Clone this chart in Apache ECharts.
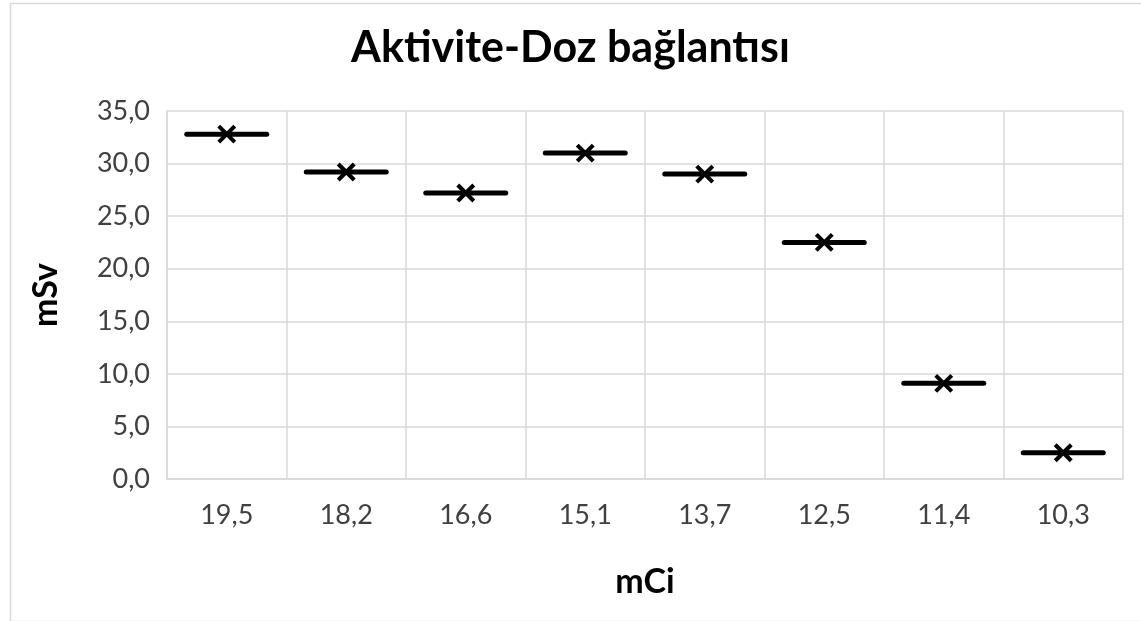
<!DOCTYPE html>
<html><head><meta charset="utf-8">
<script src="https://cdn.jsdelivr.net/npm/echarts@6/dist/echarts.min.js"></script>
<style>html,body{margin:0;padding:0;background:#fff}#c{width:1141px;height:621px}</style>
</head><body><div id="c"></div>
<script>
const categories = ['19,5','18,2','16,6','15,1','13,7','12,5','11,4','10,3'];
const doseValues = [32.8, 29.2, 27.2, 31.0, 29.0, 22.5, 9.1, 2.5];
const yTicks = {min: 0, max: 35, interval: 5};

const chart = echarts.init(document.getElementById('c'));
const FONT = 'Lato';
chart.setOption({
  backgroundColor: '#fff',
  animation: false,
  title: {
    text: 'Aktivite-Doz bağlantısı', left: 'center', top: 22,
    textStyle: {fontFamily: FONT, fontSize: 43, fontWeight: 'bold', color: '#000'}
  },
  grid: {left: 167, right: 18, top: 111, bottom: 142},
  xAxis: {
    type: 'category', data: categories,
    name: 'mCi', nameLocation: 'middle', nameGap: 86,
    nameTextStyle: {fontFamily: FONT, fontSize: 34, fontWeight: 'bold', color: '#000'},
    axisLine: {lineStyle: {color: '#d9d9d9', width: 1.5}},
    axisTick: {show: false},
    axisLabel: {fontFamily: FONT, fontSize: 27, color: '#404040', margin: 23},
    splitLine: {show: true, lineStyle: {color: '#d9d9d9', width: 1.5}}
  },
  yAxis: {
    type: 'value', min: yTicks.min, max: yTicks.max, interval: yTicks.interval,
    name: 'mSv', nameLocation: 'middle', nameGap: 104, nameRotate: 90,
    nameTextStyle: {fontFamily: FONT, fontSize: 34, fontWeight: 'bold', color: '#000'},
    axisLine: {show: true, lineStyle: {color: '#d9d9d9', width: 1.5}},
    axisTick: {show: false},
    axisLabel: {fontFamily: FONT, fontSize: 27, color: '#404040', margin: 17,
      formatter: v => v.toFixed(1).replace('.', ',')},
    splitLine: {show: true, lineStyle: {color: '#d9d9d9', width: 1.5}}
  },
  graphic: [{
    type: 'rect', left: 8, top: 1, z: -1,
    shape: {width: 1132, height: 618},
    style: {fill: 'none', stroke: '#d9d9d9', lineWidth: 1.5}
  }],
  series: [{
    type: 'custom',
    data: doseValues.map((v, i) => [i, v]),
    renderItem: function (params, api) {
      const p = api.coord([api.value(0), api.value(1)]);
      const hw = 40, s = 8;
      return {
        type: 'group',
        children: [
          {type: 'line', shape: {x1: p[0] - hw, y1: p[1], x2: p[0] + hw, y2: p[1]},
           style: {stroke: '#000', lineWidth: 5, lineCap: 'round'}},
          {type: 'line', shape: {x1: p[0] - s, y1: p[1] - s, x2: p[0] + s, y2: p[1] + s},
           style: {stroke: '#000', lineWidth: 4}},
          {type: 'line', shape: {x1: p[0] - s, y1: p[1] + s, x2: p[0] + s, y2: p[1] - s},
           style: {stroke: '#000', lineWidth: 4}}
        ]
      };
    }
  }]
});
</script></body></html>
